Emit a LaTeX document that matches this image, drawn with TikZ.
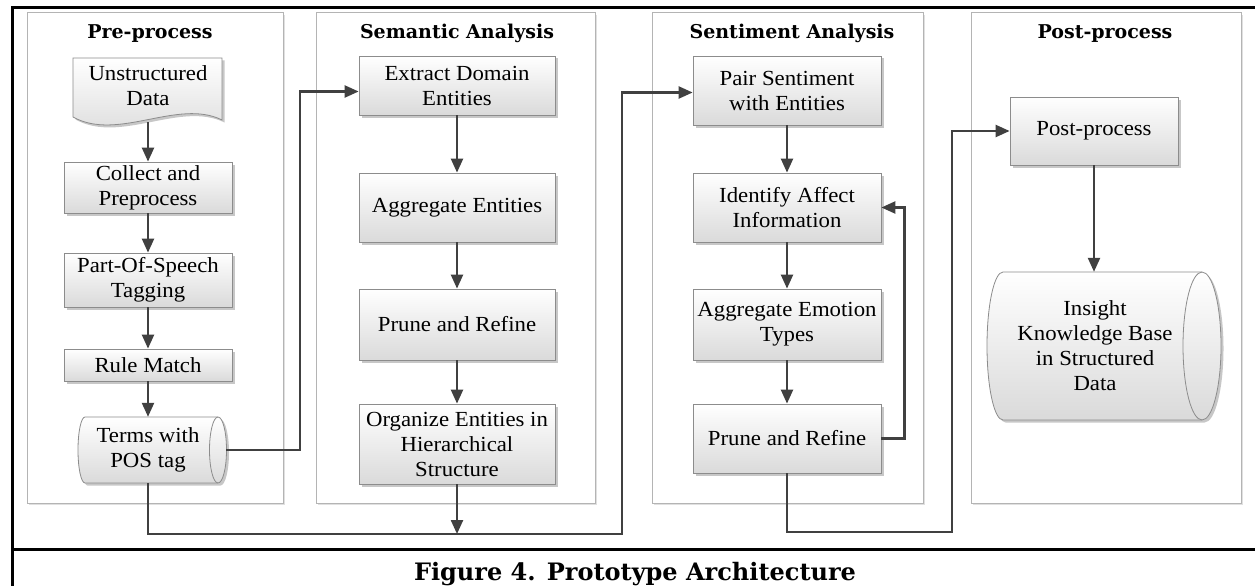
\documentclass[tikz,border=0pt]{standalone}
\usepackage{fontspec}
\setmainfont{Liberation Serif}[FakeStretch=1.06]
\newfontfamily\ttlfont{DejaVu Serif}
\usetikzlibrary{arrows.meta,shadows,calc}
\definecolor{arrc}{HTML}{404040}
\definecolor{boxb}{HTML}{8C8C8C}
\definecolor{panb}{HTML}{B4B4B4}
\definecolor{boxbot}{HTML}{DADADA}
\begin{document}
\begin{tikzpicture}[x=1pt,y=-1pt,
  panel/.style={draw=panb, line width=1pt, fill=white, inner sep=0pt,
    drop shadow={shadow xshift=2pt, shadow yshift=-2pt, opacity=0.12, fill=black}},
  stepbox/.style={draw=boxb, line width=0.8pt, top color=white, bottom color=boxbot,
    inner sep=0pt, align=center, font=\fontsize{21.5}{25}\selectfont,
    drop shadow={shadow xshift=2.5pt, shadow yshift=-2.5pt, opacity=0.22, fill=black}},
  shapefill/.style={draw=boxb, line width=0.8pt, top color=white, bottom color=boxbot,
    drop shadow={shadow xshift=2.5pt, shadow yshift=-2.5pt, opacity=0.22, fill=black}},
  plain/.style={inner sep=0pt, align=center, font=\fontsize{21.5}{25}\selectfont},
  ttl/.style={inner sep=0pt, anchor=base, font=\ttlfont\bfseries\fontsize{19}{22}\selectfont},
  conn/.style={draw=arrc, line width=2.3pt},
  arr/.style={conn, -{Triangle[length=14pt,width=12pt]}},
  frame/.style={line width=3pt, draw=black}
]
\useasboundingbox (0,0) rectangle (1255,586);
\fill[white] (0,0) rectangle (1255,586);

% outer frame
\draw[frame] (12,586) -- (12,7.5) -- (1255,7.5);
\draw[frame] (12,549) -- (1255,549);

% panels
\node[panel, minimum width=256, minimum height=490] (p1) at (155,258) {};
\node[panel, minimum width=279, minimum height=490] (p2) at (455.5,258) {};
\node[panel, minimum width=271, minimum height=490] (p3) at (787.5,258) {};
\node[panel, minimum width=270, minimum height=490] (p4) at (1106,258) {};

% titles
\node[ttl] (t1) at (150,38) {Pre-process};
\node[ttl] (t2) at (457,38) {Semantic Analysis};
\node[ttl] (t3) at (792,38) {Sentiment Analysis};
\node[ttl] (t4) at (1105,38) {Post-process};

% document shape
\path[shapefill] (73,58) -- (222,58) -- (222,120)
   .. controls (178,98) and (118,142) .. (73,117) -- cycle;
\node[plain] (ud) at (148,86) {Unstructured\\Data};
\coordinate (udb) at (148,122);

% pre-process boxes
\node[stepbox, minimum width=168, minimum height=51] (cp) at (148,187.5) {Collect and\\Preprocess};
\node[stepbox, minimum width=168, minimum height=54] (pos) at (148,280) {Part-Of-Speech\\Tagging};
\node[stepbox, minimum width=168, minimum height=32] (rm) at (148,365) {Rule Match};

% terms cylinder
\path[shapefill] (85,417) -- (218,417) arc[start angle=90, end angle=-90, x radius=8.5pt, y radius=33pt]
   -- (85,483) arc[start angle=270, end angle=90, x radius=7pt, y radius=33pt] -- cycle;
\draw[draw=boxb, line width=0.8pt] (218,417) arc[start angle=90, end angle=270, x radius=8.5pt, y radius=33pt];
\node[plain, minimum width=148, minimum height=66] (terms) at (148,450) {Terms with\\POS tag};

% semantic boxes
\node[stepbox, minimum width=196, minimum height=59] (ex) at (457,85.5) {Extract Domain\\Entities};
\node[stepbox, minimum width=196, minimum height=69] (ag) at (457,207.5) {Aggregate Entities};
\node[stepbox, minimum width=196, minimum height=71] (pr) at (457,324.5) {Prune and Refine};
\node[stepbox, minimum width=196, minimum height=80] (org) at (457,444) {Organize Entities in\\Hierarchical\\Structure};

% sentiment boxes
\node[stepbox, minimum width=188, minimum height=69] (pair) at (787,90.5) {Pair Sentiment\\with Entities};
\node[stepbox, minimum width=188, minimum height=69] (id) at (787,207.5) {Identify Affect\\Information};
\node[stepbox, minimum width=188, minimum height=71] (agg) at (787,324.5) {Aggregate Emotion\\Types};
\node[stepbox, minimum width=188, minimum height=69] (pr2) at (787,438.5) {Prune and Refine};

% post-process
\node[stepbox, minimum width=168, minimum height=68] (post) at (1094,131) {Post-process};
\path[shapefill] (1003,272) -- (1202,272) arc[start angle=90, end angle=-90, x radius=19pt, y radius=74pt]
   -- (1003,420) arc[start angle=270, end angle=90, x radius=16pt, y radius=74pt] -- cycle;
\draw[draw=boxb, line width=0.8pt] (1202,272) arc[start angle=90, end angle=270, x radius=19pt, y radius=74pt];
\node[plain, minimum width=180, minimum height=148] (kb) at (1095,346) {Insight\\Knowledge Base\\in Structured\\Data};

% connectors
\draw[arr] (udb) -- (cp.north);
\draw[arr] (cp.south) -- (pos.north);
\draw[arr] (pos.south) -- (rm.north);
\draw[arr] (rm.south) -- (terms.north);
\draw[arr] ([xshift=4pt]terms.east) -- ++(74,0) |- ([yshift=-6pt]ex.west);
\draw[arr] (ex.south) -- (ag.north);
\draw[arr] (ag.south) -- (pr.north);
\draw[arr] (pr.south) -- (org.north);
\coordinate (j1) at (622,534);
\draw[arr] (terms.south) |- (j1) |- ([yshift=-2pt]pair.west);
\draw[arr] (org.south) -- (org.south |- j1);
\draw[arr] (pair.south) -- (id.north);
\draw[arr] (id.south) -- (agg.north);
\draw[arr] (agg.south) -- (pr2.north);
\draw[arr] (pr2.east) -- ++(23,0) |- (id.east);
\coordinate (j2) at (952,532);
\draw[arr] (pr2.south) |- (j2) |- (post.west);
\draw[arr] (post.south) -- (post.south |- kb.north);

% caption
\node[inner sep=0pt, anchor=base, font=\ttlfont\bfseries\fontsize{24}{28}\selectfont] (cap) at (635,580) {Figure 4. Prototype Architecture};
\end{tikzpicture}
\end{document}
